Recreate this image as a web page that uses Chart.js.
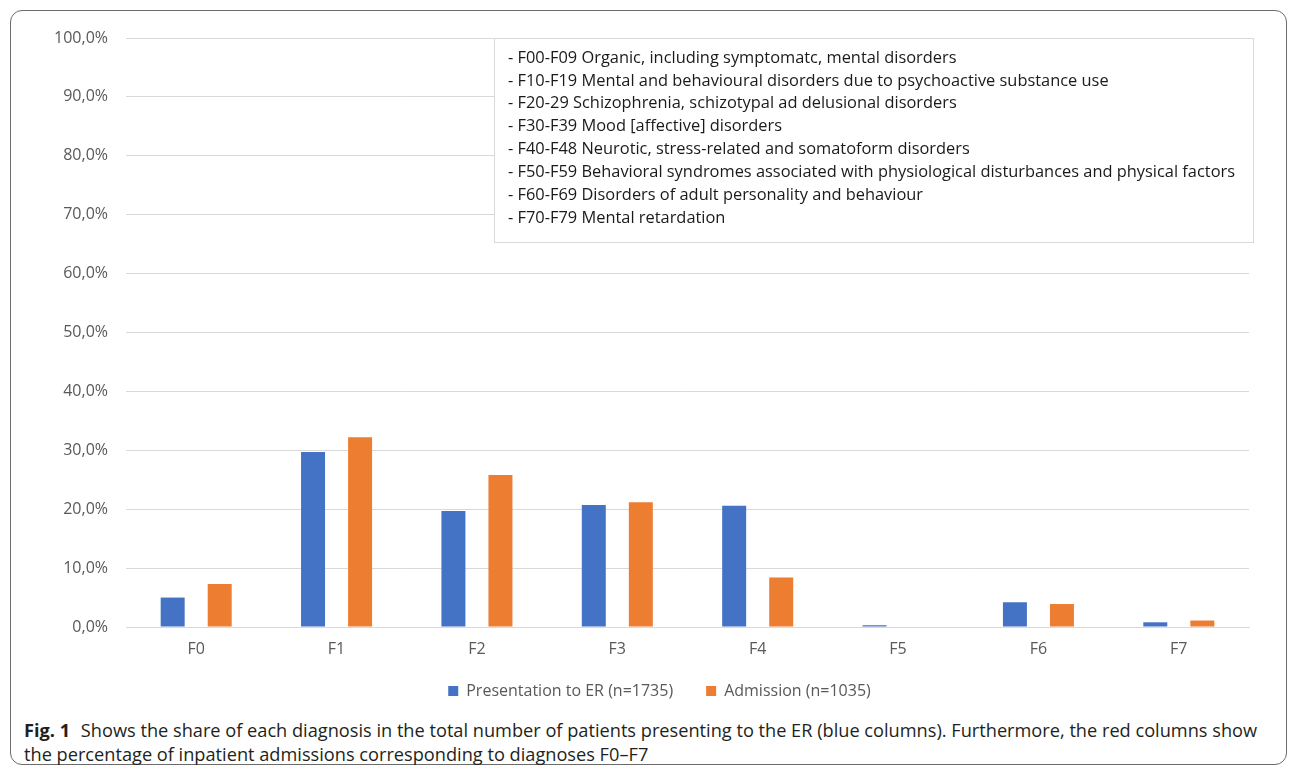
<!DOCTYPE html>
<html>
<head>
<meta charset="utf-8">
<script src="https://cdn.jsdelivr.net/npm/chart.js@4/dist/chart.umd.min.js"></script>
<style>
  html, body { margin: 0; padding: 0; background: #fff; }
  body { width: 1293px; height: 774px; position: relative; overflow: hidden; font-family: "Open Sans", sans-serif; }
  #frame { position: absolute; left: 10px; top: 10px; width: 1277px; height: 755px; border: 1.5px solid #6b6b6b; border-radius: 12px; box-sizing: border-box; }
  #c { position: absolute; left: 0; top: 0; }
  #caption { position: absolute; left: 24px; top: 718px; width: 1265px; font-size: 18.2px; line-height: 24px; color: #231f20; white-space: nowrap; }
  #caption b { font-weight: 700; margin-right: 6px; }
</style>
</head>
<body>
<div id="frame"></div>
<canvas id="c" width="1293" height="718"></canvas>
<div id="caption"><b>Fig. 1</b> Shows the share of each diagnosis in the total number of patients presenting to the ER (blue columns). Furthermore, the red columns show<br>the percentage of inpatient admissions corresponding to diagnoses F0–F7</div>
<script>
const categories = ["F0", "F1", "F2", "F3", "F4", "F5", "F6", "F7"];
const presentationER = [5.0, 29.7, 19.7, 20.7, 20.6, 0.3, 4.2, 0.8];
const admission = [7.3, 32.2, 25.8, 21.2, 8.4, 0.0, 3.9, 1.1];
const seriesNames = ["Presentation to ER (n=1735)", "Admission (n=1035)"];
const yTicks = [0, 10, 20, 30, 40, 50, 60, 70, 80, 90, 100];
const noteLines = [
  "- F00-F09 Organic, including symptomatc, mental disorders",
  "- F10-F19 Mental and behavioural disorders due to psychoactive substance use",
  "- F20-29 Schizophrenia, schizotypal ad delusional disorders",
  "- F30-F39 Mood [affective] disorders",
  "- F40-F48 Neurotic, stress-related and somatoform disorders",
  "- F50-F59 Behavioral syndromes associated with physiological disturbances and physical factors",
  "- F60-F69 Disorders of adult personality and behaviour",
  "- F70-F79 Mental retardation"
];

const noteBox = {
  id: 'noteBox',
  afterDraw(chart) {
    const ctx = chart.ctx;
    const x0 = 494, y0 = 38, w = 759, h = 204;
    ctx.save();
    ctx.fillStyle = '#ffffff';
    ctx.fillRect(x0, y0, w, h);
    ctx.strokeStyle = '#d9d9d9';
    ctx.lineWidth = 1;
    ctx.strokeRect(x0 + 0.5, y0 + 0.5, w, h);
    ctx.fillStyle = '#1a1a1a';
    ctx.font = '16.4px "Open Sans", sans-serif';
    ctx.textBaseline = 'middle';
    noteLines.forEach((t, i) => ctx.fillText(t, 508, 58 + i * 22.9));
    ctx.restore();
  }
};

const legendShift = {
  id: 'legendShift',
  afterLayout(chart) {
    const lg = chart.legend;
    if (!lg) return;
    lg.left += 35; lg.right += 35;
    lg.top -= 9; lg.bottom -= 9;
  }
};

const tickFont = { family: 'Open Sans', size: 16 };

new Chart(document.getElementById('c'), {
  type: 'bar',
  data: {
    labels: categories,
    datasets: [
      { label: seriesNames[0], data: presentationER, backgroundColor: '#4472C4', borderWidth: 0, categoryPercentage: 0.67, barPercentage: 0.51 },
      { label: seriesNames[1], data: admission, backgroundColor: '#ED7D31', borderWidth: 0, categoryPercentage: 0.67, barPercentage: 0.51 }
    ]
  },
  options: {
    responsive: false,
    animation: false,
    layout: { padding: { top: 38, right: 44, left: 0, bottom: 0 } },
    scales: {
      y: {
        min: 0, max: 100,
        afterBuildTicks(scale) { scale.ticks = yTicks.map(v => ({ value: v })); },
        afterFit(scale) { scale.width = 126; },
        grid: { color: '#d9d9d9', lineWidth: 1, drawTicks: false },
        border: { display: false },
        ticks: { color: '#595959', font: tickFont, padding: 18,
          callback: v => v.toFixed(1).replace('.', ',') + '%' }
      },
      x: {
        afterFit(scale) { scale.height = 32; },
        grid: { display: false, drawTicks: false },
        border: { display: true, color: '#d9d9d9' },
        ticks: { color: '#595959', font: tickFont, padding: 13 }
      }
    },
    plugins: {
      legend: {
        position: 'bottom',
        labels: { color: '#595959', font: tickFont, boxWidth: 10, boxHeight: 10, padding: 33 }
      },
      tooltip: { enabled: false }
    }
  },
  plugins: [noteBox, legendShift]
});
</script>
</body>
</html>
